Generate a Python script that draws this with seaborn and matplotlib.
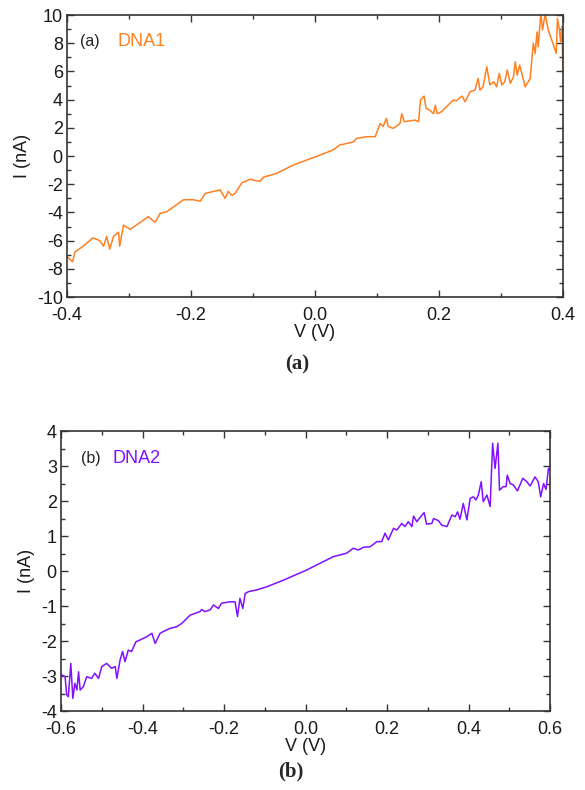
import pandas as pd
import numpy as np
import matplotlib.pyplot as plt
import seaborn as sns
from matplotlib.ticker import MultipleLocator

# panel (a): DNA1
v_dna1 = [-0.400, -0.391, -0.387, -0.374, -0.358, -0.347, -0.341, -0.336, -0.331, -0.325,
          -0.317, -0.315, -0.309, -0.298, -0.288, -0.269, -0.258, -0.250, -0.239, -0.228,
          -0.212, -0.196, -0.185, -0.177, -0.153, -0.145, -0.140, -0.134, -0.129, -0.118,
          -0.105, -0.089, -0.083, -0.062, -0.035, -0.013, 0.008, 0.029, 0.040, 0.062,
          0.067, 0.083, 0.097, 0.105, 0.110, 0.115, 0.118, 0.126, 0.137, 0.140,
          0.144, 0.161, 0.167, 0.170, 0.176, 0.179, 0.185, 0.191, 0.194, 0.197,
          0.204, 0.212, 0.223, 0.228, 0.237, 0.242, 0.250, 0.258, 0.263, 0.266,
          0.271, 0.277, 0.282, 0.288, 0.293, 0.297, 0.301, 0.306, 0.310, 0.315,
          0.320, 0.323, 0.326, 0.330, 0.339, 0.347, 0.350, 0.352, 0.355, 0.358,
          0.360, 0.364, 0.367, 0.371, 0.376, 0.382, 0.389, 0.391, 0.394, 0.396,
          0.398, 0.400]
i_dna1 = [-7.14, -7.5, -6.8, -6.4, -5.8, -6.0, -6.4, -5.7, -6.6, -5.7,
          -5.4, -6.4, -4.9, -5.2, -4.9, -4.3, -4.7, -4.07, -3.95, -3.6,
          -3.1, -3.1, -3.2, -2.65, -2.4, -3.0, -2.5, -2.8, -2.65, -1.9,
          -1.65, -1.8, -1.5, -1.23, -0.64, -0.28, 0.07, 0.43, 0.78, 1.0,
          1.25, 1.37, 1.37, 2.3, 2.1, 2.67, 2.1, 1.96, 2.3, 3.0,
          2.43, 2.55, 2.43, 3.97, 4.25, 3.38, 3.26, 3.0, 3.6, 3.0,
          3.14, 3.5, 3.97, 3.92, 4.25, 3.85, 4.56, 4.68, 5.5, 4.68,
          4.9, 6.33, 5.04, 5.27, 4.9, 5.86, 5.04, 5.27, 6.1, 5.16,
          5.62, 6.69, 5.74, 6.45, 4.9, 5.5, 7.04, 8.0, 7.28, 8.8,
          7.75, 10.1, 8.94, 10.1, 8.94, 8.2, 7.28, 9.76, 8.94, 8.1,
          9.17, 5.98]

# panel (b): DNA2
v_dna2 = [-0.598, -0.590, -0.586, -0.582, -0.576, -0.571, -0.566, -0.561, -0.557, -0.553,
          -0.545, -0.537, -0.525, -0.517, -0.508, -0.500, -0.488, -0.476, -0.467, -0.463,
          -0.455, -0.449, -0.443, -0.435, -0.427, -0.416, -0.406, -0.390, -0.377, -0.369,
          -0.357, -0.349, -0.333, -0.316, -0.304, -0.283, -0.259, -0.255, -0.247, -0.234,
          -0.226, -0.214, -0.206, -0.185, -0.173, -0.167, -0.161, -0.154, -0.148, -0.140,
          -0.120, -0.095, -0.054, 0.003, 0.068, 0.101, 0.117, 0.130, 0.142, 0.158,
          0.175, 0.187, 0.195, 0.203, 0.216, 0.224, 0.236, 0.244, 0.252, 0.261,
          0.265, 0.273, 0.281, 0.291, 0.297, 0.310, 0.314, 0.326, 0.334, 0.347,
          0.359, 0.367, 0.373, 0.379, 0.387, 0.396, 0.404, 0.412, 0.418, 0.424,
          0.431, 0.436, 0.445, 0.453, 0.459, 0.465, 0.472, 0.476, 0.485, 0.492,
          0.495, 0.502, 0.510, 0.520, 0.533, 0.543, 0.551, 0.563, 0.571, 0.577,
          0.584, 0.590, 0.596, 0.600]
i_dna2 = [-2.97, -3.02, -3.54, -3.59, -2.64, -3.64, -3.21, -3.4, -2.88, -3.4,
          -3.3, -3.02, -3.07, -2.92, -3.07, -2.73, -2.64, -2.78, -2.73, -3.07,
          -2.54, -2.3, -2.59, -2.26, -2.3, -2.02, -1.97, -1.88, -1.78, -2.07,
          -1.78, -1.73, -1.64, -1.59, -1.5, -1.26, -1.16, -1.1, -1.16, -1.11,
          -0.97, -1.07, -0.92, -0.88, -0.88, -1.3, -0.78, -1.07, -0.64, -0.59,
          -0.54, -0.45, -0.26, 0.03, 0.41, 0.51, 0.65, 0.6, 0.68, 0.69,
          0.84, 0.84, 1.08, 0.89, 1.22, 1.17, 1.36, 1.27, 1.41, 1.27,
          1.57, 1.41, 1.53, 1.67, 1.34, 1.36, 1.5, 1.44, 1.31, 1.27,
          1.6, 1.55, 1.69, 1.48, 1.93, 1.46, 2.08, 2.12, 2.03, 2.17,
          2.55, 1.98, 2.17, 1.84, 3.65, 2.93, 3.65, 2.31, 2.41, 2.41,
          2.74, 2.5, 2.46, 2.29, 2.65, 2.55, 2.43, 2.69, 2.55, 2.12,
          2.5, 2.33, 2.93, 2.89]

orange = '#ff8020'
purple = '#8010ff'

sns.set_style("ticks")
plt.rcParams['font.family'] = ['Liberation Sans', 'DejaVu Sans']
plt.rcParams['axes.unicode_minus'] = False

fig = plt.figure(figsize=(5.85, 7.9), dpi=100)
ax1 = fig.add_axes([0.1145, 0.624, 0.848, 0.357])
ax2 = fig.add_axes([0.1043, 0.100, 0.836, 0.3544])

df1 = pd.DataFrame({'V': v_dna1, 'I': i_dna1})
df2 = pd.DataFrame({'V': v_dna2, 'I': i_dna2})

sns.lineplot(data=df1, x='V', y='I', sort=False, estimator=None, color=orange, lw=1.1, ax=ax1)
sns.lineplot(data=df2, x='V', y='I', sort=False, estimator=None, color=purple, lw=1.1, ax=ax2)

def style(ax, xlim, ylim, xmaj, ymaj, ymin):
    ax.set_xlim(*xlim)
    ax.set_ylim(*ylim)
    ax.xaxis.set_major_locator(MultipleLocator(xmaj))
    ax.xaxis.set_minor_locator(MultipleLocator(xmaj / 2))
    ax.yaxis.set_major_locator(MultipleLocator(ymaj))
    ax.yaxis.set_minor_locator(MultipleLocator(ymin))
    ax.tick_params(which='both', direction='in', top=True, right=True,
                   color='#333333', width=1.0, labelsize=13, labelcolor='#1a1a1a')
    ax.tick_params(axis='x', which='major', pad=7)
    ax.tick_params(axis='y', which='major', pad=3)
    ax.tick_params(which='major', length=5)
    ax.tick_params(which='minor', length=3)
    for s in ax.spines.values():
        s.set_color('#333333')
        s.set_linewidth(1.2)
    ax.set_xlabel('V (V)', fontsize=13, labelpad=0, color='#1a1a1a')
    ax.set_ylabel('I (nA)', fontsize=13, labelpad=4, color='#1a1a1a')

style(ax1, (-0.4, 0.4), (-10, 10), 0.2, 2, 1)
ax1.yaxis.set_major_formatter(plt.FuncFormatter(lambda v, p: f'{v:.0f}'))
style(ax2, (-0.6, 0.6), (-4, 4), 0.2, 1, 0.5)

ax1.text(0.027, 0.905, '(a)', transform=ax1.transAxes, fontsize=11.5, color='#222222', va='center')
ax1.text(0.101, 0.905, 'DNA1', transform=ax1.transAxes, fontsize=13, color=orange, va='center')
ax2.text(0.040, 0.903, '(b)', transform=ax2.transAxes, fontsize=11.5, color='#222222', va='center')
ax2.text(0.106, 0.903, 'DNA2', transform=ax2.transAxes, fontsize=13, color=purple, va='center')

fig.text(0.508, 0.538, '(a)', ha='center', va='center', fontsize=15,
         fontweight='bold', family='Liberation Serif')
fig.text(0.497, 0.023, '(b)', ha='center', va='center', fontsize=15,
         fontweight='bold', family='Liberation Serif')

plt.savefig('out.png', dpi=100)
